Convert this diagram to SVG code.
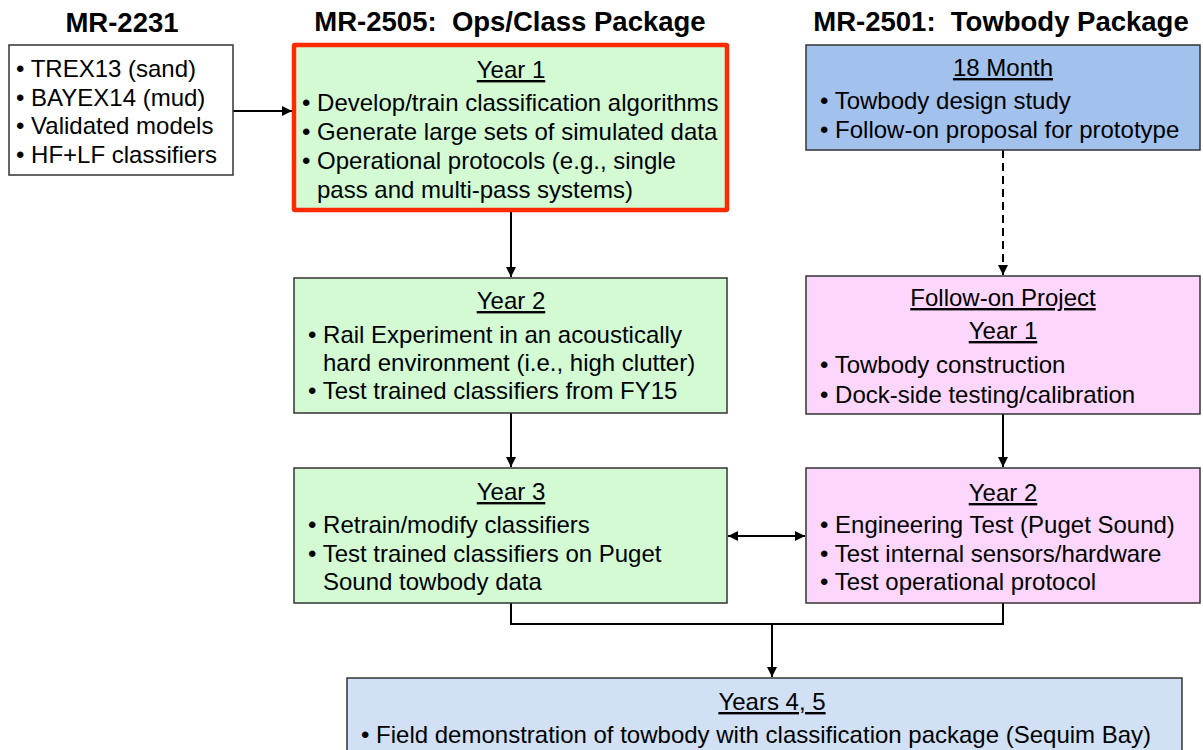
<svg xmlns="http://www.w3.org/2000/svg" width="1203" height="750" viewBox="0 0 1203 750">
<defs>
<style>
text{font-family:"Liberation Sans",Arial,sans-serif;font-size:24px;fill:#000}
.t{font-weight:bold;font-size:27.5px;text-anchor:middle;white-space:pre}
.h{text-anchor:middle;text-decoration:underline}
.box{stroke:#333;stroke-width:1.5}
.g{fill:#d4fad4}
.b{fill:#a2c1ed}
.p{fill:#fdd6fd}
.lb{fill:#d1e0f5}
.c{fill:none;stroke:#000;stroke-width:2}
</style>
<marker id="ah" viewBox="0 0 10 10" refX="10" refY="5" markerWidth="10" markerHeight="10" markerUnits="userSpaceOnUse" orient="auto-start-reverse">
<path d="M0,0 L10,5 L0,10 z" fill="#000"/>
</marker>
</defs>
<g id="titles">
<text class="t" x="122" y="32">MR-2231</text>
<text class="t" x="510" y="31">MR-2505:  Ops/Class Package</text>
<text class="t" x="1001" y="31">MR-2501:  Towbody Package</text>
</g>
<g id="connectors">
<line class="c" x1="233" y1="111" x2="292" y2="111" marker-end="url(#ah)"/>
<line class="c" x1="511" y1="212" x2="511" y2="277" marker-end="url(#ah)"/>
<line class="c" x1="511" y1="413" x2="511" y2="467" marker-end="url(#ah)"/>
<line class="c" x1="1003" y1="150" x2="1003" y2="275" stroke-dasharray="8,5" marker-end="url(#ah)"/>
<line class="c" x1="1003" y1="414" x2="1003" y2="467" marker-end="url(#ah)"/>
<line class="c" x1="728" y1="536" x2="805" y2="536" marker-start="url(#ah)" marker-end="url(#ah)"/>
<polyline class="c" points="511,603 511,624 1003,624 1003,603"/>
<line class="c" x1="772" y1="624" x2="772" y2="677" marker-end="url(#ah)"/>
</g>
<g id="mr2231">
<rect class="box" x="9" y="45" width="224" height="130" fill="#fff"/>
<text x="16" y="77">• TREX13 (sand)</text>
<text x="16" y="105.5">• BAYEX14 (mud)</text>
<text x="16" y="134">• Validated models</text>
<text x="16" y="162.5">• HF+LF classifiers</text>
</g>
<g id="ops-year1">
<rect class="g" x="294" y="45" width="433" height="165" stroke="#ff2a00" stroke-width="4.5" rx="1"/>
<text class="h" x="511" y="78">Year 1</text>
<text x="302" y="111">• Develop/train classification algorithms</text>
<text x="302" y="140">• Generate large sets of simulated data</text>
<text x="302" y="169">• Operational protocols (e.g., single</text>
<text x="317" y="198">pass and multi-pass systems)</text>
</g>
<g id="ops-year2">
<rect class="box g" x="294" y="278" width="433" height="135"/>
<text class="h" x="511" y="309">Year 2</text>
<text x="308" y="343">• Rail Experiment in an acoustically</text>
<text x="323" y="371">hard environment (i.e., high clutter)</text>
<text x="308" y="399">• Test trained classifiers from FY15</text>
</g>
<g id="ops-year3">
<rect class="box g" x="294" y="468" width="433" height="135"/>
<text class="h" x="511" y="500">Year 3</text>
<text x="308" y="533">• Retrain/modify classifiers</text>
<text x="308" y="562">• Test trained classifiers on Puget</text>
<text x="323" y="590">Sound towbody data</text>
</g>
<g id="tow-18month">
<rect class="box b" x="806" y="45" width="394" height="105"/>
<text class="h" x="1003" y="76">18 Month</text>
<text x="820" y="109">• Towbody design study</text>
<text x="820" y="138">• Follow-on proposal for prototype</text>
</g>
<g id="tow-year1">
<rect class="box p" x="806" y="276" width="394" height="138"/>
<text class="h" x="1003" y="306">Follow-on Project</text>
<text class="h" x="1003" y="339">Year 1</text>
<text x="820" y="373">• Towbody construction</text>
<text x="820" y="403">• Dock-side testing/calibration</text>
</g>
<g id="tow-year2">
<rect class="box p" x="806" y="468" width="394" height="135"/>
<text class="h" x="1003" y="501">Year 2</text>
<text x="820" y="533">• Engineering Test (Puget Sound)</text>
<text x="820" y="562">• Test internal sensors/hardware</text>
<text x="820" y="590">• Test operational protocol</text>
</g>
<g id="years45">
<rect class="box lb" x="347" y="678" width="835" height="80"/>
<text class="h" x="772" y="710">Years 4, 5</text>
<text x="361" y="743">• Field demonstration of towbody with classification package (Sequim Bay)</text>
</g>
</svg>
